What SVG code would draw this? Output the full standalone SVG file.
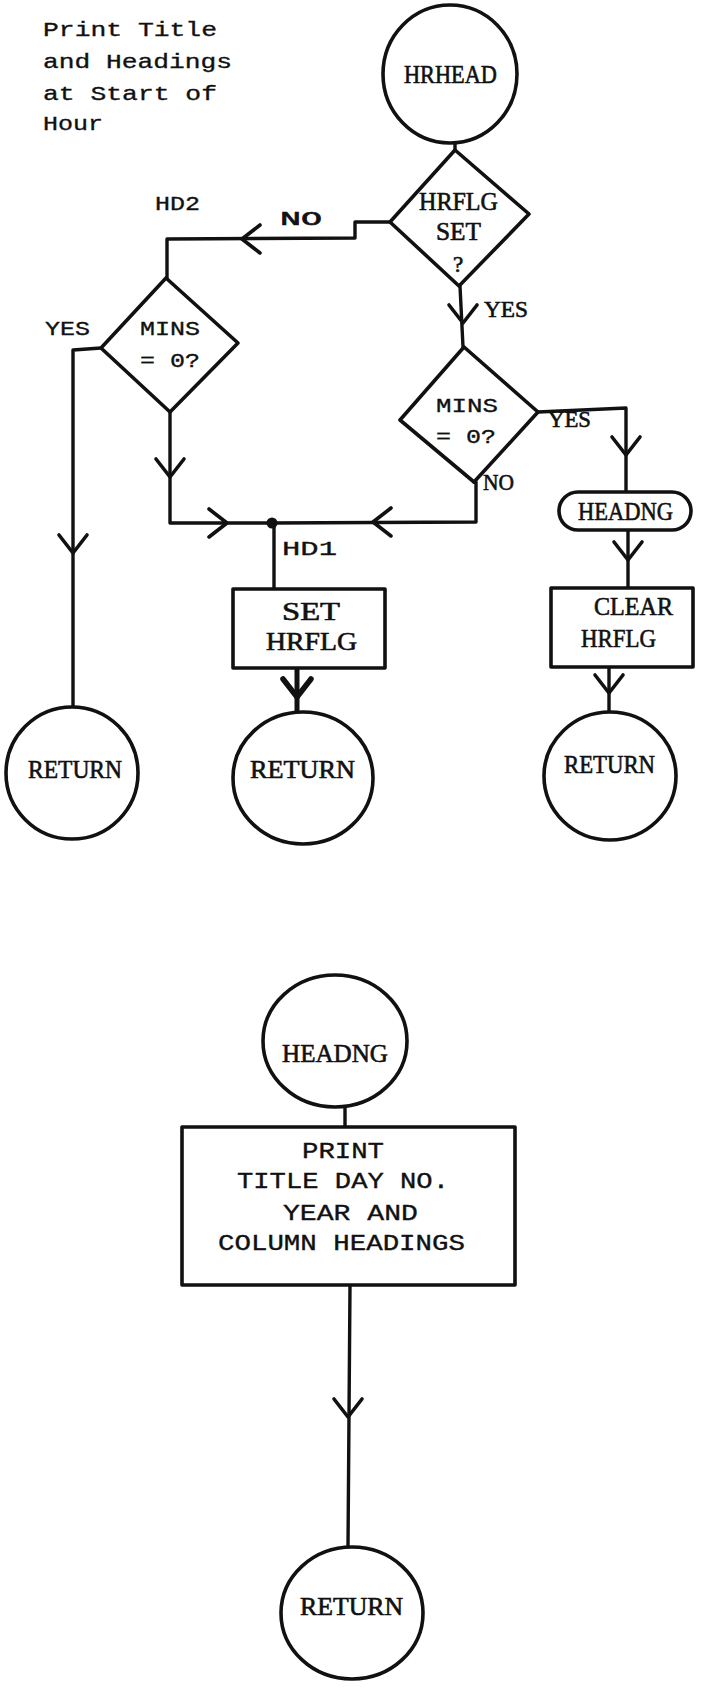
<svg xmlns="http://www.w3.org/2000/svg" width="702" height="1688" viewBox="0 0 702 1688">
  <style>
    .shape{fill:#fff;stroke:#111;stroke-width:3.6;stroke-linejoin:round}
    .wire{fill:none;stroke:#111;stroke-width:3.4;stroke-linejoin:round;stroke-linecap:round}
    .head{fill:none;stroke:#111;stroke-width:3.6;stroke-linejoin:round;stroke-linecap:round}
    .mono{font-family:"Liberation Mono","Courier New",monospace;font-size:21px;fill:#111;stroke:#111;stroke-width:0.35}
    .box{font-size:22px}
    .serif{font-family:"Liberation Serif","Times New Roman",serif;font-size:25px;fill:#111;stroke:#111;stroke-width:0.6}
  </style>
  <defs>
    <!-- open chevron pointing down, tip at the origin -->
    <path id="chev" d="M-14,-18 L0,0 L14,-18"/>
  </defs>

  <rect width="702" height="1688" fill="#fff"/>

  <!-- caption -->
  <g id="caption" class="mono">
    <text x="43" y="36" textLength="174" lengthAdjust="spacingAndGlyphs">Print Title</text>
    <text x="43" y="68" textLength="189" lengthAdjust="spacingAndGlyphs">and Headings</text>
    <text x="43" y="100" textLength="174" lengthAdjust="spacingAndGlyphs">at Start of</text>
    <text x="43" y="130" textLength="60" lengthAdjust="spacingAndGlyphs">Hour</text>
  </g>

  <!-- connectors -->
  <g id="connectors">
    <path class="wire" d="M455,143 L455,150"/>
    <path class="wire" d="M390,222 L355,222 L355,238 L167,239 L167,278"/>
    <path class="wire" d="M460,286 L463,347"/>
    <path class="wire" d="M101,348 L73,350 L73,707"/>
    <path class="wire" d="M170,412 L170,523 L272,523"/>
    <path class="wire" d="M474,482 L476,482 L476,522 L272,523"/>
    <path class="wire" d="M538,412 L626,408 L626,492"/>
    <path class="wire" d="M628,530 L628,588"/>
    <path class="wire" d="M609,667 L609,712"/>
    <path class="wire" d="M274,523 L274,589"/>
    <path class="wire" d="M297,668 L297,712" style="stroke-width:5"/>
    <path class="wire" d="M345,1107 L345,1127"/>
    <path class="wire" d="M350,1285 L348,1547"/>
    <circle cx="272" cy="523" r="5.5" fill="#111"/>

    <g class="head">
      <use href="#chev" transform="translate(242,239) rotate(90)"/>
      <use href="#chev" transform="translate(463,323)"/>
      <use href="#chev" transform="translate(73,553)"/>
      <use href="#chev" transform="translate(170,477)"/>
      <use href="#chev" transform="translate(227,523) rotate(-90)"/>
      <use href="#chev" transform="translate(373,522) rotate(90)"/>
      <use href="#chev" transform="translate(626,455)"/>
      <use href="#chev" transform="translate(628,560)"/>
      <use href="#chev" transform="translate(609,693)"/>
      <use href="#chev" transform="translate(297,697)" style="stroke-width:5.5"/>
      <use href="#chev" transform="translate(348,1417)"/>
    </g>

    <g id="connector-labels">
      <text class="mono" x="155" y="210" textLength="45" lengthAdjust="spacingAndGlyphs">HD2</text>
      <text class="mono" x="280" y="225" textLength="42" lengthAdjust="spacingAndGlyphs" style="stroke-width:0.7">NO</text>
      <text class="mono" x="45" y="335" textLength="45" lengthAdjust="spacingAndGlyphs">YES</text>
      <text class="mono" x="282" y="555" textLength="55" lengthAdjust="spacingAndGlyphs">HD1</text>
      <text class="serif" x="484" y="317" textLength="44" lengthAdjust="spacingAndGlyphs" style="font-size:23px">YES</text>
      <text class="serif" x="548" y="427" textLength="43" lengthAdjust="spacingAndGlyphs" style="font-size:23px">YES</text>
      <text class="serif" x="483" y="490" textLength="31" lengthAdjust="spacingAndGlyphs" style="font-size:23px">NO</text>
    </g>
  </g>

  <!-- entry: HRHEAD -->
  <g id="hrhead">
    <ellipse class="shape" cx="450" cy="74" rx="67" ry="69"/>
    <text class="serif" x="404" y="83" textLength="93" lengthAdjust="spacingAndGlyphs">HRHEAD</text>
  </g>

  <g id="hrflg-set">
    <polygon class="shape" points="455,150 529,214 459,286 390,222"/>
    <text class="serif" x="419" y="210" textLength="79" lengthAdjust="spacingAndGlyphs">HRFLG</text>
    <text class="serif" x="436" y="240" textLength="45" lengthAdjust="spacingAndGlyphs">SET</text>
    <text class="serif" x="453" y="272" style="font-size:23px">?</text>
  </g>

  <g id="mins-zero-hd2">
    <polygon class="shape" points="166,278 238,343 170,412 101,348"/>
    <text class="mono" x="140" y="335" textLength="60" lengthAdjust="spacingAndGlyphs">MINS</text>
    <text class="mono" x="140" y="367" textLength="60" lengthAdjust="spacingAndGlyphs">= 0?</text>
  </g>

  <g id="mins-zero">
    <polygon class="shape" points="464,347 538,412 474,482 400,420"/>
    <text class="mono" x="436" y="412" textLength="62" lengthAdjust="spacingAndGlyphs">MINS</text>
    <text class="mono" x="436" y="443" textLength="60" lengthAdjust="spacingAndGlyphs">= 0?</text>
  </g>

  <g id="call-headng">
    <rect class="shape" x="559" y="492" width="132" height="38" rx="19"/>
    <text class="serif" x="578" y="520" textLength="95" lengthAdjust="spacingAndGlyphs">HEADNG</text>
  </g>

  <g id="clear-hrflg">
    <rect class="shape" x="551" y="588" width="142" height="79"/>
    <text class="serif" x="594" y="615" textLength="79" lengthAdjust="spacingAndGlyphs">CLEAR</text>
    <text class="serif" x="581" y="647" textLength="75" lengthAdjust="spacingAndGlyphs">HRFLG</text>
  </g>

  <g id="set-hrflg">
    <rect class="shape" x="233" y="589" width="152" height="79"/>
    <text class="serif" x="282" y="620" textLength="58" lengthAdjust="spacingAndGlyphs">SET</text>
    <text class="serif" x="266" y="650" textLength="91" lengthAdjust="spacingAndGlyphs">HRFLG</text>
  </g>

  <g id="return-1">
    <ellipse class="shape" cx="72" cy="773" rx="66" ry="66"/>
    <text class="serif" x="28" y="778" textLength="94" lengthAdjust="spacingAndGlyphs">RETURN</text>
  </g>

  <g id="return-2">
    <ellipse class="shape" cx="303" cy="778" rx="70" ry="66"/>
    <text class="serif" x="250" y="778" textLength="105" lengthAdjust="spacingAndGlyphs">RETURN</text>
  </g>

  <g id="return-3">
    <ellipse class="shape" cx="610" cy="776" rx="66" ry="64"/>
    <text class="serif" x="564" y="773" textLength="91" lengthAdjust="spacingAndGlyphs">RETURN</text>
  </g>

  <!-- entry: HEADNG -->
  <g id="headng">
    <ellipse class="shape" cx="335" cy="1041" rx="72" ry="66"/>
    <text class="serif" x="282" y="1062" textLength="106" lengthAdjust="spacingAndGlyphs" style="font-size:26px">HEADNG</text>
  </g>

  <g id="print-headings">
    <rect class="shape" x="182" y="1127" width="333" height="158"/>
    <text class="mono box" x="302" y="1158" textLength="82" lengthAdjust="spacingAndGlyphs">PRINT</text>
    <text class="mono box" x="237" y="1188" textLength="212" lengthAdjust="spacingAndGlyphs">TITLE DAY NO.</text>
    <text class="mono box" x="283" y="1220" textLength="135" lengthAdjust="spacingAndGlyphs">YEAR AND</text>
    <text class="mono box" x="218" y="1250" textLength="247" lengthAdjust="spacingAndGlyphs">COLUMN HEADINGS</text>
  </g>

  <g id="return-4">
    <ellipse class="shape" cx="352" cy="1613" rx="71" ry="66"/>
    <text class="serif" x="300" y="1615" textLength="103" lengthAdjust="spacingAndGlyphs">RETURN</text>
  </g>
</svg>
